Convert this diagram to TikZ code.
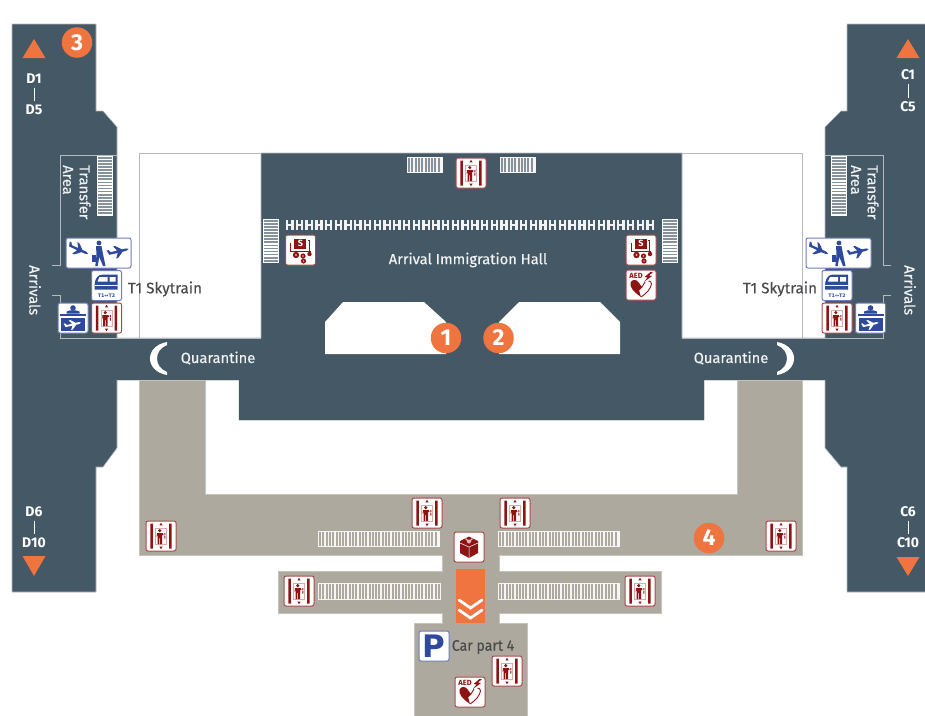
\documentclass[tikz,border=0pt]{standalone}
\usepackage{fontspec}
\usepackage{tikz}
\newfontfamily\mapfont{Fira Sans}
\newfontfamily\mapmedium{Fira Sans}[FakeBold=0.35]
\newfontfamily\signfont{DejaVu Sans}
\definecolor{hallgrey}{HTML}{445865}
\definecolor{floorbeige}{HTML}{ADA99E}
\definecolor{edgegrey}{HTML}{B4BAC0}
\definecolor{signorange}{HTML}{EF7440}
\definecolor{liftred}{HTML}{8E1414}
\definecolor{framered}{HTML}{A94A4A}
\definecolor{paleread}{HTML}{D9A9A9}
\definecolor{signblue}{HTML}{2F4A9C}
\definecolor{frameblue}{HTML}{6C7DBC}
\definecolor{textgrey}{HTML}{4A4A4C}
\newcommand{\sized}[1]{\fontsize{#1}{#1}\selectfont}
% stripes across an escalator, corners given in pixels
\newcommand{\stairsh}[4]{%
  \fill[white] (#1,#2) rectangle (#3,#4);
  \pgfmathsetmacro{\stairn}{int((#4-#2)/3.05)}
  \foreach \k in {1,...,\stairn} \fill[hallgrey!65!white] (#1+1.1,{#2+1.1+(\k-1)*3.05}) rectangle (#3-1.1,{#2+2.9+(\k-1)*3.05});
}
\newcommand{\stairsv}[5][hallgrey!65!white]{%
  \fill[white!90!floorbeige] (#2,#3) rectangle (#4,#5);
  \pgfmathsetmacro{\stairn}{int((#4-#2)/3.3)}
  \foreach \k in {1,...,\stairn} \fill[#1] ({#2+1+(\k-1)*3.3},#3+1.2) rectangle ({#2+3+(\k-1)*3.3},#5-1.2);
}
\tikzset{
  hallfloor/.style={fill=hallgrey,draw=edgegrey,line width=.6pt},
  beigefloor/.style={fill=floorbeige,draw=floorbeige!70!white,line width=.5pt},
  zoneline/.style={draw=edgegrey,line width=.8pt},
  hallname/.style={font=\mapmedium\sized{14.7},text=white!92!hallgrey,inner sep=0pt},
  sideword/.style={hallname,rotate=-90,anchor=west},
  gatename/.style={font=\mapfont\bfseries\sized{14},text=white,inner sep=0pt},
  gatebar/.style={white,line width=.9pt,shorten >=3.5pt,shorten <=3.5pt},
  darkname/.style={font=\mapmedium\sized{15.2},text=textgrey,inner sep=0pt},
  spotdot/.style={circle,fill=signorange,minimum size=30.5pt,inner sep=0pt,text=white,font=\mapfont\bfseries\sized{23}},
  redframe/.style={fill=white,draw=framered,line width=1pt,rounded corners=2pt},
  blueframe/.style={fill=white,draw=frameblue,line width=1pt,rounded corners=2pt},
  planepic/.pic={
    \fill (11,0) .. controls (9,-1.3) .. (4,-1.3) -- (-2,-6.5) -- (-4.2,-6.5) -- (-1,-1.3) -- (-8,-1.3)
      -- (-10,-4) -- (-11.8,-4) -- (-10.4,1) -- (-1,1.3) -- (-4.2,6.5) -- (-2,6.5) -- (4,1.3)
      .. controls (9,1.3) .. (11,0) -- cycle;
  },
  liftpic/.pic={
    \draw[redframe] (-15,-15) rectangle (15,15);
    \fill[liftred] (-10.6,-12.5) rectangle (-8.2,12.5) (8.2,-12.5) rectangle (10.6,12.5);
    \draw[paleread,line width=.8pt] (-5.6,-8) rectangle (5.6,8);
    \fill[liftred] (-1.2,-5.4) circle (1.7);
    \fill[liftred] (-4,-3) -- (2,-3) -- (2.4,-1) -- (1.2,-1) -- (1.2,8) -- (-.8,8) -- (-.8,2) -- (-1.6,2) -- (-1.6,8) -- (-3.4,8) -- (-3.4,-1) -- (-4.4,1) -- cycle;
    \fill[liftred] (0,-13.2) -- (1.6,-10.6) -- (-1.6,-10.6) -- cycle (0,13.2) -- (1.6,10.6) -- (-1.6,10.6) -- cycle;
    \fill[liftred] (3.4,-3) rectangle (4.3,-.6) (3.4,.2) rectangle (4.3,2.6);
  },
  moneypic/.pic={
    \draw[redframe] (-15,-15) rectangle (15,15);
    \fill[liftred] (-6.5,-11) rectangle (5.5,-1.5);
    \node[font=\mapfont\bfseries\sized{9},text=white,inner sep=0pt] (s) at (0,-6.2) {S};
    \draw[liftred,line width=.8pt] (7,-10) -- (8.5,-10) -- (8.5,1) (-10,-7) -- (-10,1) -- (10,1);
    \foreach \a/\b/\c in {-4.5/5/3.2,2.5/6/2.6,3/11/2.6} \fill[liftred] (\a,\b) circle (\c);
    \fill[paleread] (-4.5,5) circle (1.1) (2.5,6) circle (.9) (3,11) circle (.9);
    \fill[liftred] (9,4) circle (2.2);
  },
  aedpic/.pic={
    \draw[redframe] (-15,-15) rectangle (15,15);
    \node[font=\mapfont\bfseries\sized{7.5},text=liftred,inner sep=0pt] (t) at (-5,-9) {AED};
    \fill[liftred] (9.5,-13) -- (3.5,-8) -- (6.5,-7.5) -- (3,-3) -- (11,-9) -- (8,-9.5) -- (12,-13) -- cycle;
    \fill[liftred] (0,12) .. controls (-7,7) and (-12,2) .. (-10.5,-2.5) .. controls (-9,-6) and (-4,-6) .. (-2,-2) -- (1,2) -- (-2,5) -- cycle;
    \draw[liftred,line width=.9pt] (0,12) .. controls (6,8) and (9.5,4) .. (10.5,-1) .. controls (10.5,-3) and (9,-4) .. (7.5,-4) (-2,5) -- (1,2) -- (4,-3);
  },
  giftpic/.pic={
    \draw[redframe] (-15,-15) rectangle (15,15);
    \fill[liftred] (0,-10.5) -- (9,-6) -- (9,6) -- (0,11) -- (-9,6) -- (-9,-6) -- cycle;
    \draw[white,line width=.5pt] (-9,-4) -- (0,0) -- (9,-4) (0,0) -- (0,11);
    \draw[white!60!framered,line width=1.2pt] (-3.5,-8.5) -- (0,-5) -- (3.5,-8.5);
    \fill[white!60!framered] (0,-5.5) circle (2);
  },
  trainpic/.pic={
    \draw[blueframe] (-15,-15) rectangle (15,15);
    \fill[signblue] (-12,4) -- (-12,0) .. controls (-12,-6) and (-9,-11) .. (-4,-11) -- (11,-11) -- (11,4) -- cycle;
    \fill[white] (-7,-8.5) -- (1,-8.5) -- (1,-4) -- (-9,-4) -- cycle (3,-8.5) rectangle (9,-4);
    \fill[white] (-12,-.8) rectangle (11,.4);
    \node[font=\signfont\bfseries\sized{4.8},text=signblue,inner sep=0pt] (t) at (0,10) {T1↔T2};
  },
  checkinpic/.pic={
    \draw[blueframe] (-15,-15) rectangle (15,15);
    \fill[signblue] (-12,0) rectangle (12,13);
    \fill[signblue] (-13,-4.5) rectangle (13,-2.5);
    \fill[signblue] (0,-10) circle (2.8);
    \fill[signblue] (-6.5,-4.5) -- (-6.5,-6.5) -- (-3,-7.6) -- (3,-7.6) -- (6.5,-6.5) -- (6.5,-4.5) -- cycle;
    \pic[white,rotate=14,scale=.75] at (0,6.5) {planepic};
  },
  walkpic/.pic={
    \draw[blueframe] (-32.5,-15) rectangle (32.5,15);
    \pic[signblue,rotate=-24,scale=.95] at (-20,-3.5) {planepic};
    \pic[signblue,rotate=14,scale=.95] at (20,-1.5) {planepic};
    \fill[signblue] (.5,-10) circle (2.4);
    \fill[signblue] (-2.5,-7) -- (3,-7) -- (4.5,1) -- (7,13) -- (4.5,13) -- (.8,4) -- (-.8,13) -- (-3.2,13) -- (-2,2) -- cycle;
    \fill[signblue] (-6.5,1.5) rectangle (-3,9);
  },
  parkpic/.pic={
    \draw[blueframe,fill=white] (-15,-15) rectangle (15,15);
    \node[font=\signfont\bfseries\sized{31},text=signblue,inner sep=0pt] (p) at (0,0) {P};
  }
}
\begin{document}
\begin{tikzpicture}[x=1pt,y=-1pt]
  \useasboundingbox (0,0) rectangle (925,715);
  % floors
  \path[hallfloor] (12,24) -- (96,24) -- (96,111) -- (103,111) -- (117,127) -- (117,338) -- (261,338)
    -- (261,153) -- (682,153) -- (682,338) -- (825,338) -- (825,127) -- (841,111) -- (847,111) -- (847,24)
    -- (926,24) -- (926,592) -- (847,592) -- (847,467) -- (841,467) -- (825,448) -- (825,380) -- (704,380)
    -- (704,420) -- (239,420) -- (239,380) -- (117,380) -- (117,448) -- (103,467) -- (96,467) -- (96,592)
    -- (12,592) -- cycle;
  \fill[hallgrey] (117,338) rectangle (825,380);
  \fill[hallgrey] (239,338) rectangle (704,420);
  \path[beigefloor] (139,380) -- (205,380) -- (205,494) -- (737,494) -- (737,380) -- (802,380) -- (802,555)
    -- (499,555) -- (499,571) -- (661,571) -- (661,613) -- (499,613) -- (499,623) -- (527,623) -- (527,716)
    -- (414,716) -- (414,623) -- (442,623) -- (442,613) -- (278,613) -- (278,571) -- (442,571) -- (442,555)
    -- (139,555) -- cycle;
  \fill[white] (325,354) -- (325,322) -- (343,302) -- (424,302) -- (446,322) -- (446,354) -- cycle;
  \fill[white] (499,354) -- (499,322) -- (519,302) -- (600,302) -- (620,322) -- (620,354) -- cycle;
  \fill[signorange] (456,569) rectangle (485,623);
  \draw[white,line width=2.8pt,line cap=round] (459,600) -- (470.5,608) -- (482,600) (459,610) -- (470.5,618) -- (482,610);
  % outlines of the zones
  \draw[zoneline] (261,153) -- (139,153) -- (139,338) -- (261,338);
  \draw[zoneline] (682,153) -- (802,153) -- (802,338) -- (682,338);
  \draw[zoneline] (117,155) -- (60,155) -- (60,265) -- (52,265) (52,295) -- (60,295) -- (60,338) -- (139,338);
  \draw[zoneline] (825,155) -- (883,155) -- (883,265) -- (891,265) (891,295) -- (883,295) -- (883,338) -- (802,338);
  % escalators
  \stairsh{97}{156}{113}{216}
  \stairsh{831}{156}{847}{216}
  \stairsh{263}{219}{279}{263}
  \stairsh{662}{219}{678}{263}
  \stairsv{407}{157}{443}{173}
  \stairsv{500}{157}{536}{173}
  \stairsv[floorbeige]{318}{531}{440}{547}
  \stairsv[floorbeige]{498}{531}{620}{547}
  \stairsv[floorbeige]{318}{583}{441}{600}
  \stairsv[floorbeige]{498}{583}{620}{600}
  % row of gates
  \foreach \k in {0,...,37} {
    \fill[white!92!hallgrey] ({286+9.74*\k},220) rectangle ({288.3+9.74*\k},230);
    \fill[white!92!hallgrey] ({291.2+9.74*\k},220) rectangle ({293.5+9.74*\k},230);
    \fill[white!92!hallgrey] ({288+9.74*\k},224.2) rectangle ({291.5+9.74*\k},225.8);
  }
  % quarantine gates
  \fill[white] (167,342) .. controls (144.3,346) and (144.3,371) .. (167,375) -- (167,372) .. controls (153.7,367) and (153.7,350) .. (167,345) -- cycle;
  \fill[white] (777,342) .. controls (799.7,346) and (799.7,371) .. (777,375) -- (777,372) .. controls (790.3,367) and (790.3,350) .. (777,345) -- cycle;
  % labels
  \node[hallname] (hall) at (468,260) {Arrival Immigration Hall};
  \node[hallname] (quarL) at (218,358) {Quarantine};
  \node[hallname] (quarR) at (731,358) {Quarantine};
  \node[darkname] (skyL) at (165,289) {T1 Skytrain};
  \node[darkname] (skyR) at (780,289) {T1 Skytrain};
  \node[darkname,xscale=.93] (car) at (483,647) {Car part 4};
  \node[sideword] (arrL) at (35,265) {Arrivals};
  \node[sideword] (arrR) at (910,265) {Arrivals};
  \node[sideword] (transL) at (85,165) {Transfer};
  \node[sideword] (areaL) at (68,165) {Area};
  \node[sideword] (transR) at (873,165) {Transfer};
  \node[sideword] (areaR) at (856,165) {Area};
  % gates at the wing ends
  \node[gatename] (d1) at (34,79) {D1};
  \node[gatename] (d5) at (34,110) {D5};
  \node[gatename] (d6) at (34,512) {D6};
  \node[gatename] (d10) at (34,543) {D10};
  \node[gatename] (c1) at (908,75) {C1};
  \node[gatename] (c5) at (908,107) {C5};
  \node[gatename] (c6) at (908,512) {C6};
  \node[gatename] (c10) at (908,543) {C10};
  \foreach \u/\v in {d1/d5,d6/d10,c1/c5,c6/c10} \draw[gatebar] (\u) -- (\v);
  \fill[signorange] (34,39) -- (45.5,58) -- (22.5,58) -- cycle (908,39) -- (919.5,58) -- (896.5,58) -- cycle;
  \fill[signorange] (34,576) -- (45.5,556) -- (22.5,556) -- cycle (908,576) -- (919.5,557) -- (896.5,557) -- cycle;
  \node[spotdot] (spot1) at (446,338) {1};
  \node[spotdot] (spot2) at (498.5,338) {2};
  \node[spotdot] (spot3) at (77,42.5) {3};
  \node[spotdot] (spot4) at (709,538) {4};
  % signs
  \foreach \n/\a/\b in {a/471/173,b/427/513,c/515/513,d/161/536,e/299/591,f/640/591,g/781/536,h/507/671,i/106.5/318,j/837/318}
    \pic (lift\n) at (\a,\b) {liftpic};
  \pic (moneyL) at (300.5,250) {moneypic};
  \pic (moneyR) at (641,250) {moneypic};
  \pic (aedR) at (641,285) {aedpic};
  \pic (aedB) at (470,692) {aedpic};
  \pic (gift) at (469,547) {giftpic};
  \pic (park) at (434,646) {parkpic};
  \pic (trainL) at (106.5,285.5) {trainpic};
  \pic (trainR) at (837,285.5) {trainpic};
  \pic (walkL) at (98.5,253) {walkpic};
  \pic (walkR) at (838.5,253) {walkpic};
  \pic (checkL) at (73,318) {checkinpic};
  \pic (checkR) at (870.5,318) {checkinpic};
\end{tikzpicture}
\end{document}
